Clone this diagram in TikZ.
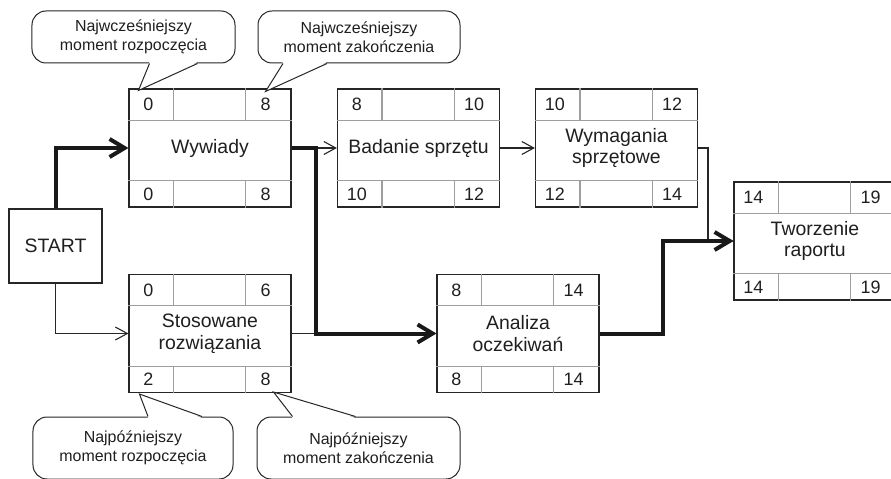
\documentclass[tikz,border=0pt]{standalone}
\usepackage{fontspec}
\setmainfont{Liberation Sans}
\usetikzlibrary{arrows.meta}

\definecolor{boxline}{gray}{0.15}
\definecolor{gridgray}{gray}{0.62}
\definecolor{ink}{gray}{0.12}

\tikzset{
  taskbody/.style={draw=boxline, line width=1.1bp, minimum width=162bp, minimum height=118bp, inner sep=0pt, align=center, text=ink, font=\fontsize{19.5}{22}\selectfont},
  gridline/.style={draw=gridgray, line width=1.1bp},
  num/.style={inner sep=0pt, text=ink, font=\fontsize{18}{20}\selectfont},
  startbox/.style={draw=boxline, line width=1.1bp, minimum width=93bp, minimum height=74bp, inner sep=0pt, text=ink, font=\fontsize{19.5}{22}\selectfont},
  bubble/.style={draw=boxline, line width=1bp, rounded corners=14bp, fill=white, inner sep=0pt, align=center, text=ink, font=\fontsize{16}{18.5}\selectfont},
  critpath/.style={line width=4bp, draw=black!90, -{Straight Barb[length=15bp,width=18bp]}},
  linkpath/.style={line width=1.1bp, draw=boxline, -{Straight Barb[length=12bp,width=13bp]}}
}

% tail of a bubble: anchor, left dx, right dx, inward dy, tip
\newcommand{\bubbletail}[5]{%
  \fill[white] ([xshift=#2bp,yshift=#4bp]#1) -- (#5) -- ([xshift=#3bp,yshift=#4bp]#1) -- cycle;
  \draw[boxline, line width=1bp] ([xshift=#2bp]#1) -- (#5) -- ([xshift=#3bp]#1);
}

\begin{document}
\begin{tikzpicture}[x=1bp,y=-1bp]
\useasboundingbox (0,0) rectangle (891,479);

\foreach \nm/\cx/\cy/\txt/\es/\ef/\ls/\lf in {
  wyw/210/148/{Wywiady}/0/8/0/8,
  bad/418.5/148/{Badanie sprzętu}/8/10/10/12,
  wym/616.5/148/{Wymagania\\sprzętowe}/10/12/12/14,
  two/815/241/{Tworzenie\\raportu}/14/19/14/19,
  sto/210/333.5/{Stosowane\\rozwiązania}/0/6/2/8,
  ana/518/333.5/{Analiza\\oczekiwań}/8/14/8/14}
{
\node[taskbody] (\nm) at (\cx,\cy) {\txt};
\draw[gridline] ([yshift=-32bp]\nm.north west) -- ([yshift=-32bp]\nm.north east);
\draw[gridline] ([yshift=27bp]\nm.south west) -- ([yshift=27bp]\nm.south east);
\draw[gridline] ([xshift=45bp]\nm.north west) -- ++(0,32);
\draw[gridline] ([xshift=-46bp]\nm.north east) -- ++(0,32);
\draw[gridline] ([xshift=45bp]\nm.south west) -- ++(0,-27);
\draw[gridline] ([xshift=-46bp]\nm.south east) -- ++(0,-27);
\node[num] (\nm-es) at ([xshift=20bp,yshift=-16bp]\nm.north west) {\es};
\node[num] (\nm-ef) at ([xshift=-26bp,yshift=-16bp]\nm.north east) {\ef};
\node[num] (\nm-ls) at ([xshift=20bp,yshift=13.5bp]\nm.south west) {\ls};
\node[num] (\nm-lf) at ([xshift=-26bp,yshift=13.5bp]\nm.south east) {\lf};
}

\node[startbox] (start) at (55.5,246) {START};

\coordinate (j1) at (316,148);
\coordinate (j3) at (708,241);
\coordinate (j4) at (663,241);

% plain links
\draw[linkpath] (start.south) |- (sto.west);
\draw[linkpath] (j1) -- (bad.west);
\draw[linkpath] (bad.east) -- (wym.west);
\draw[linkpath] (wym.east) -| (j3) -- (two.west);
\draw[line width=1.1bp, draw=boxline] (sto.east) -- (sto.east -| j1);

% critical path
\draw[critpath] (start.north) |- (wyw.west);
\draw[critpath] (wyw.east) -- (j1) |- (ana.west);
\draw[critpath] (ana.east) -| (j4) -- (two.west);

% bubbles
\node[bubble, minimum width=203bp, minimum height=52bp] (es-note) at (133.5,37) {Najwcześniejszy\\moment rozpoczęcia};
\node[bubble, minimum width=202bp, minimum height=52bp] (ef-note) at (359,37) {Najwcześniejszy\\moment zakończenia};
\node[bubble, minimum width=200bp, minimum height=62bp] (ls-note) at (133,448) {Najpóźniejszy\\moment rozpoczęcia};
\node[bubble, minimum width=203bp, minimum height=62bp] (lf-note) at (358.5,448) {Najpóźniejszy\\moment zakończenia};

\bubbletail{es-note.south}{16}{64}{1.5}{[xshift=10bp,yshift=-2bp]wyw.north west}
\bubbletail{ef-note.south}{-76}{-32}{1.5}{[xshift=-26bp,yshift=-3bp]wyw.north east}
\bubbletail{ls-note.north}{15}{69}{-1.5}{[xshift=11bp,yshift=-1bp]sto.south west}
\bubbletail{lf-note.north}{-66}{-3}{-1.5}{[xshift=-18bp,yshift=1bp]sto.south east}
\end{tikzpicture}
\end{document}
